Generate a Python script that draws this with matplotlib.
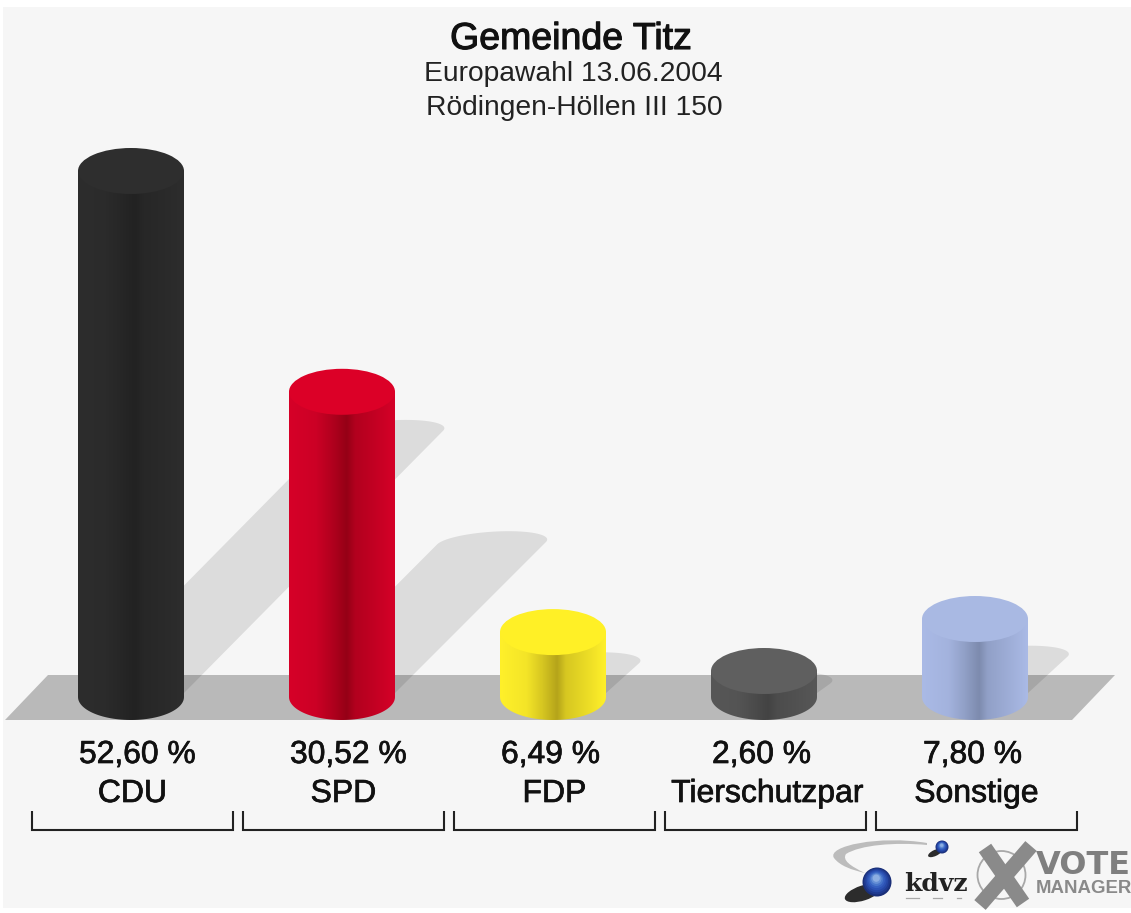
import numpy as np
import matplotlib
matplotlib.use("Agg")
import matplotlib.pyplot as plt
import matplotlib.patheffects as pe
from matplotlib.colors import LinearSegmentedColormap, to_rgb
from matplotlib.patches import Polygon, Ellipse, Rectangle, PathPatch, Circle
from matplotlib.path import Path

# ---- data ----
parties = ["CDU", "SPD", "FDP", "Tierschutzpar", "Sonstige"]
values = [52.60, 30.52, 6.49, 2.60, 7.80]
value_labels = ["52,60 %", "30,52 %", "6,49 %", "2,60 %", "7,80 %"]
top_colors = ["#2e2e2e", "#dc0027", "#fff026", "#5f5f5f", "#a9b9e3"]
edge_colors = ["#2d2d2d", "#d60028", "#fff02a", "#575757", "#aabae6"]
mid_colors = ["#222222", "#950016", "#b5a41a", "#434343", "#7d8bae"]
title = "Gemeinde Titz"
subtitle1 = "Europawahl 13.06.2004"
subtitle2 = "Rödingen-Höllen III 150"

W, H = 1131, 913
BG = "#f6f6f6"
FONT = "Liberation Sans"
STEP = 211.0      # pixels per category
UNIT = 10.0       # pixels per percentage point
X0, Y0 = 131.0, 697.0   # pixel position of category 0 / value 0
HALF_W = 53 / STEP
HALF_H = 23 / UNIT
SHADOW_X, SHADOW_Y = 0.49, 0.504
HEAVY = [pe.withStroke(linewidth=0.5, foreground="#111111")]
HEAVY_T = [pe.withStroke(linewidth=0.8, foreground="#111111")]

fig = plt.figure(figsize=(W / 100, H / 100), dpi=100, facecolor="white")

# background layer, in pixel coordinates
deco = fig.add_axes([0, 0, 1, 1], zorder=0)
deco.set_xlim(0, W)
deco.set_ylim(H, 0)
deco.axis("off")
deco.add_patch(Rectangle((3, 7), W - 3, 901, fc=BG, ec="none"))
deco.add_patch(Polygon([(5, 720), (48, 675), (1115, 675), (1072, 720)], fc="#b9b9b9", ec="none"))

# chart layer, in category / percent coordinates
ax = fig.add_axes([0, 0, 1, 1], zorder=1)
ax.patch.set_alpha(0)
xlim = (-X0 / STEP, (W - X0) / STEP)
ylim = ((Y0 - H) / UNIT, Y0 / UNIT)
ax.axis("off")

t = np.linspace(0, 2 * np.pi, 120)


def shadow_points(cx, cy):
    a, b = HALF_W, 12 / UNIT
    return np.column_stack([cx + a * np.cos(t) + (17 / 12) * (b * np.sin(t)) * UNIT / STEP,
                            cy + b * np.sin(t)])


def convex_hull(pts):
    pts = sorted(map(tuple, pts))

    def half(seq):
        out = []
        for p in seq:
            while len(out) > 1:
                (x1, y1), (x2, y2) = out[-2], out[-1]
                if (x2 - x1) * (p[1] - y1) - (y2 - y1) * (p[0] - x1) <= 0:
                    out.pop()
                else:
                    break
            out.append(p)
        return out
    lo, up = half(pts), half(pts[::-1])
    return np.array(lo[:-1] + up[:-1])


def mix(c1, c2, f):
    a, b = np.array(to_rgb(c1)), np.array(to_rgb(c2))
    return tuple(a + (b - a) * f)


for i, v in enumerate(values):
    # cast shadow: base of the cylinder swept up and to the right
    tip = shadow_points(i + v * UNIT * SHADOW_X / STEP, v * SHADOW_Y)
    base = np.array([[i - HALF_W, 0.4], [i + HALF_W, 0.4], [i, 1.0]])
    ax.add_patch(Polygon(convex_hull(np.vstack([base, tip])), fc="black", ec="none",
                         alpha=0.10, zorder=1))

for i, v in enumerate(values):
    # cylinder body with a horizontal gradient, clipped to its outline
    e, m = edge_colors[i], mid_colors[i]
    cmap = LinearSegmentedColormap.from_list("c", [(0, e), (0.25, mix(e, m, 0.15)), (0.40, mix(e, m, 0.55)),
                                                   (0.54, m), (0.62, mix(e, m, 0.55)),
                                                   (0.80, mix(e, m, 0.3)), (1, e)])
    lt = np.linspace(np.pi, 2 * np.pi, 60)
    outline = np.vstack([[[i - HALF_W, v], [i - HALF_W, 0]],
                         np.column_stack([i + HALF_W * np.cos(lt), HALF_H * np.sin(lt)]),
                         [[i + HALF_W, v]]])
    clip = Polygon(outline, closed=True, transform=ax.transData, fc="none", ec="none")
    ax.add_patch(clip)
    im = ax.imshow(np.linspace(0, 1, 256)[None, :], cmap=cmap, aspect="auto", zorder=2,
                   extent=(i - HALF_W, i + HALF_W, -HALF_H, v + 0.1), interpolation="bilinear")
    im.set_clip_path(clip)
    ax.add_patch(Ellipse((i, v), 2 * HALF_W, 2 * HALF_H, fc=top_colors[i], ec="none", zorder=3))

    # value and party label
    ax.annotate(value_labels[i], xy=(i, 0), xytext=(-52, -58), textcoords="offset pixels",
                ha="left", va="center", fontsize=22.9, family=FONT, color="#111111", zorder=5,
                path_effects=HEAVY)
    lx = 3.5 if parties[i] == "Tierschutzpar" else 1.5
    ax.annotate(parties[i], xy=(i, 0), xytext=(lx, -97), textcoords="offset pixels",
                ha="center", va="center", fontsize=23, family=FONT, color="#111111", zorder=5,
                path_effects=HEAVY)
    # bracket under each category
    bx = X0 + i * STEP + 1.5
    deco.plot([bx - 100.5, bx - 100.5, bx + 100.5, bx + 100.5], [811, 830, 830, 811],
              color="#222222", lw=1.5, solid_joinstyle="miter", solid_capstyle="butt")

ax.set_xlim(xlim)
ax.set_ylim(ylim)

# title block
deco.text(571, 39, title, ha="center", va="center", fontsize=27, family=FONT, color="#111111",
          path_effects=HEAVY_T)
deco.text(573, 74, subtitle1, ha="center", va="center", fontsize=20.3, family=FONT, color="#222222")
deco.text(574.5, 108, subtitle2, ha="center", va="center", fontsize=20.3, family=FONT, color="#222222")

# logos
swoosh = Path([(927, 843), (880, 835), (826, 846), (834, 858), (840, 866), (852, 870), (865, 873),
               (850, 866), (842, 860), (846, 854), (860, 845), (895, 842), (927, 845), (927, 843)],
              [Path.MOVETO] + [Path.CURVE4] * 12 + [Path.CLOSEPOLY])
deco.add_patch(PathPatch(swoosh, fc="#bcbcbc", ec="none"))
deco.add_patch(Ellipse((863, 893), 38, 15, angle=-18, fc="#2c2c2c", ec="none"))
deco.add_patch(Ellipse((935, 853), 15, 6, angle=-25, fc="#2c2c2c", ec="none"))
for (cx, cy, r) in [(877, 882, 14.5), (942, 847, 6.5)]:
    for k, c in zip(np.linspace(1, 0.25, 8),
                    ["#1a2f78", "#1f3a90", "#2546a4", "#2c52b4", "#3660c0", "#4876ca", "#6690d6", "#8caee2"]):
        off = (1 - k) * r * 0.35
        deco.add_patch(Circle((cx - off * 0.2, cy - off), r * k, fc=c, ec="none"))
deco.text(936, 884, "kdvz", ha="center", va="center", fontsize=18, family="DejaVu Serif",
          fontweight="bold", color="#222222")
for xa, xb in [(906, 919), (933, 942), (957, 961)]:
    deco.plot([xa, xb], [898, 898], color="#a8a8a8", lw=0.9)

deco.add_patch(Circle((1001.5, 875), 24, fc="none", ec="#a8a8a8", lw=1.3))
deco.plot([1031, 980], [846, 905], color="#8a8a8a", lw=10.8, solid_capstyle="butt")
deco.plot([985, 1023], [848, 903], color="#8a8a8a", lw=10.8, solid_capstyle="butt")
deco.text(1036, 866, "VOTE", ha="left", va="center", fontsize=23, family="DejaVu Sans",
          fontweight="bold", color="#7f7f7f", clip_on=True)
deco.text(1036, 888.5, "MANAGER", ha="left", va="center", fontsize=13.4, family=FONT,
          fontweight="bold", color="#8a8a8a", clip_on=True)

fig.savefig("out.png", dpi=100, facecolor="white")
